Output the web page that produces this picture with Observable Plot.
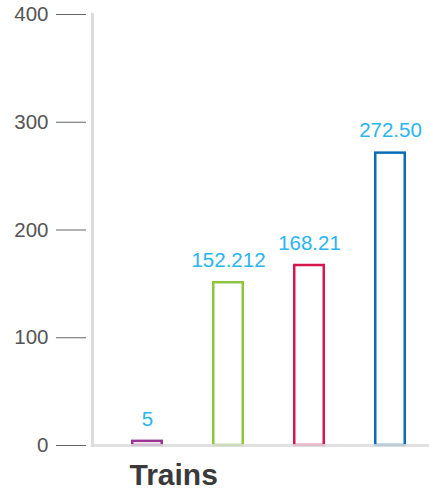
<!DOCTYPE html>
<html>
<head>
<meta charset="utf-8">
<script src="https://cdn.jsdelivr.net/npm/d3@7"></script>
<script src="https://cdn.jsdelivr.net/npm/@observablehq/plot@0.6"></script>
<style>
  html, body { margin: 0; padding: 0; background: #fff; }
  svg { display: block; }
</style>
</head>
<body>
<div id="chart"></div>
<script>
// Series within the single "Trains" group
const series = ["A", "B", "C", "D"];
const values = [5, 152.212, 168.21, 272.50];
const valueLabels = ["5", "152.212", "168.21", "272.50"];
const colors = ["#9b3592", "#8cc63f", "#d7164f", "#0b6cb5"];
const yTicks = [0, 100, 200, 300, 400];
const groupLabel = "Trains";

const data = series.map((s, i) => ({series: s, value: values[i], label: valueLabels[i], color: colors[i]}));

const font = "'Liberation Sans', Arial, sans-serif";

const chart = Plot.plot({
  width: 429,
  height: 495,
  marginTop: 14,
  marginBottom: 50,
  marginLeft: 92,
  marginRight: 0,
  style: {fontFamily: font, background: "#fff"},
  x: {type: "band", domain: series, range: [106.5, 430.5], paddingInner: 0.605, paddingOuter: 0.3025, axis: null},
  y: {domain: [0, 400], axis: null},
  marks: [
    Plot.frame({anchor: "left", stroke: "#dcdcdc", strokeWidth: 3}),
    Plot.axisY(yTicks, {
      anchor: "left",
      label: null,
      dx: -6,
      tickSize: 30,
      tickPadding: 8,
      stroke: "#666",
      fill: "#555",
      fontSize: 20.5,
      fontWeight: 300,
      tickFormat: d => String(d)
    }),
    Plot.barY(data, {
      x: "series",
      y: "value",
      fill: "#fff",
      stroke: "color",
      strokeWidth: 2.5,
      insetLeft: 1.25,
      insetRight: 1.25,
      insetTop: 1.25
    }),
    Plot.frame({anchor: "bottom", stroke: "#dcdcdc", strokeWidth: 3, strokeOpacity: 0.85}),
    Plot.text(data, {
      x: "series",
      y: "value",
      text: "label",
      dy: -21,
      lineAnchor: "middle",
      fill: "#29b5ef",
      fontSize: 20.5
    }),
    Plot.text([groupLabel], {
      frameAnchor: "bottom-left",
      dx: 37,
      dy: 30,
      textAnchor: "start",
      lineAnchor: "middle",
      fill: "#3a3a3a",
      fontSize: 30,
      fontWeight: "bold"
    })
  ]
});

document.getElementById("chart").append(chart);
</script>
</body>
</html>
